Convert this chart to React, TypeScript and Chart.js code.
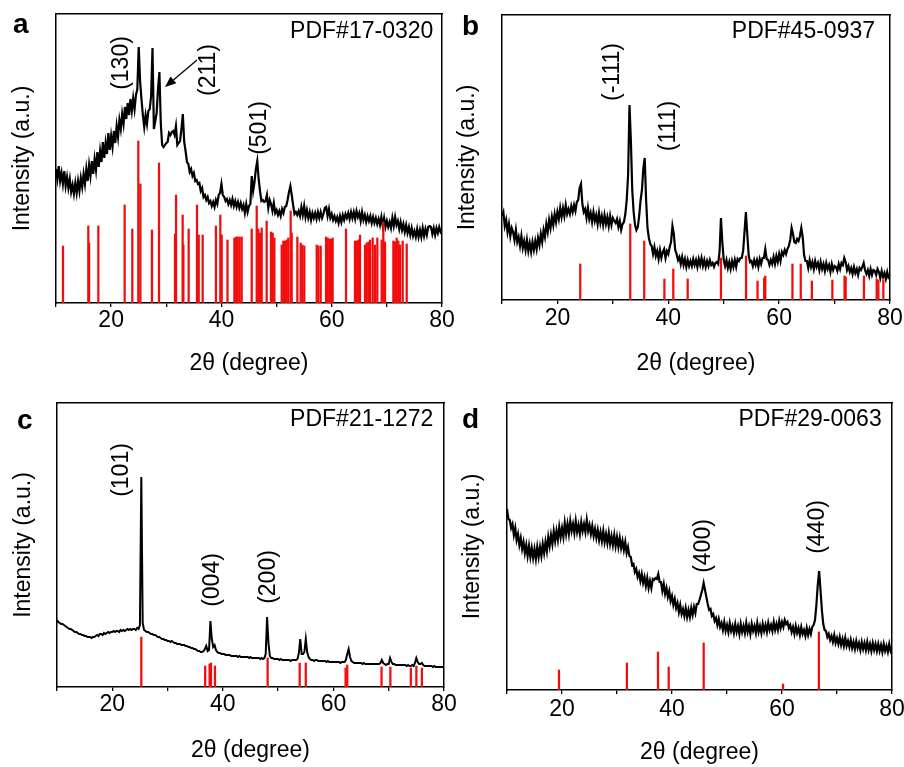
import React, { useEffect, useRef } from 'react';
import { Chart, registerables } from 'chart.js';

Chart.register(...registerables);

const FONT = '"Liberation Sans", Arial, Helvetica, sans-serif';
const RED = '#f20d0d';

// 2θ sampling grid of the measured patterns (degrees)
const TWO_THETA_START = 10;
const TWO_THETA_STEP = 0.25;
const X_MIN = 10;
const X_MAX = 80;
const X_TICK_LABELS = [20, 40, 60, 80];

// ---------- Panel a ----------
const A_INTENSITY = [
  134, 124, 137, 122, 130, 119, 132, 117, 126, 115, 124, 111, 118, 109, 120, 110,
  122, 112, 125, 116, 129, 119, 134, 122, 138, 127, 142, 129, 144, 133, 151, 136,
  152, 141, 161, 145, 160, 149, 170, 153, 167, 156, 172, 160, 177, 166, 183, 174,
  189, 179, 196, 184, 200, 188, 204, 192, 205, 194, 208, 214, 256, 222, 204, 188,
  176, 188, 179, 192, 194, 207, 255, 174, 182, 190, 214, 231, 180, 158, 156, 158,
  160, 161, 170, 168, 171, 172, 168, 177, 158, 160, 162, 174, 189, 161, 152, 141,
  139, 131, 134, 127, 130, 122, 123, 119, 120, 112, 115, 106, 108, 103, 106, 100,
  102, 97, 101, 96, 103, 99, 108, 110, 119, 108, 106, 102, 104, 99, 103, 98,
  104, 97, 102, 96, 101, 95, 100, 94, 98, 90, 99, 91, 97, 99, 127, 112,
  121, 134, 142, 124, 112, 102, 103, 101, 102, 108, 95, 103, 99, 92, 100, 90,
  93, 88, 92, 87, 94, 90, 96, 97, 103, 111, 117, 108, 98, 89, 91, 88,
  92, 87, 96, 88, 97, 86, 93, 85, 91, 83, 90, 85, 90, 84, 91, 85,
  91, 85, 89, 95, 96, 87, 94, 85, 89, 83, 87, 82, 86, 80, 87, 81,
  88, 83, 89, 85, 90, 84, 91, 85, 91, 84, 92, 86, 90, 82, 91, 83,
  88, 81, 87, 82, 87, 80, 86, 80, 85, 79, 84, 78, 86, 77, 85, 76,
  82, 76, 81, 75, 85, 77, 86, 78, 82, 74, 81, 73, 79, 71, 78, 70,
  76, 68, 75, 67, 72, 66, 74, 66, 73, 66, 75, 67, 74, 68, 76, 77,
  76, 69, 75, 68, 75, 70, 76, 71, 73,
];
const A_REF_2THETA = [
  11.27, 15.86, 16.0, 17.68, 22.45, 23.84, 24.93, 25.3, 27.4, 28.68, 31.58, 31.77,
  32.97, 33.1, 34.06, 35.57, 35.88, 36.6, 39.0, 39.8, 40.05, 41.1, 42.35, 42.65,
  42.95, 43.3, 43.67, 45.49, 46.4, 46.69, 47.0, 47.3, 48.2, 48.99, 49.3, 49.6,
  50.93, 51.23, 51.53, 51.83, 52.13, 52.56, 52.74, 53.77, 54.37, 54.67, 55.03, 57.28,
  57.58, 58.0, 58.97, 59.27, 59.57, 59.87, 60.17, 62.59, 64.22, 64.53, 64.83, 65.13,
  66.04, 66.34, 66.64, 66.95, 67.43, 67.85, 68.27, 69.06, 69.36, 69.67, 71.18, 71.48,
  71.78, 72.08, 72.39, 72.87, 73.6,
];
const A_REF_INTENSITY = [
  57, 77, 60, 77, 98, 74, 162, 119, 73, 140, 69, 108,
  88, 58, 74, 98, 68, 68, 77, 88, 68, 63, 65, 66,
  66, 66, 66, 74, 97, 74, 70, 75, 82, 71, 70, 65,
  58, 62, 62, 63, 65, 92, 70, 66, 60, 58, 57, 58,
  57, 57, 66, 65, 64, 64, 65, 74, 62, 62, 63, 68,
  58, 60, 61, 63, 65, 58, 65, 63, 81, 61, 62, 61,
  65, 62, 58, 62, 59,
];
const A_PEAK_TEXT = ['(130)', '(211)', '(501)'];
const A_PEAK_2THETA = [21.9, 37.6, 47.0];
const A_PEAK_LEVEL = [240, 233, 175];

// ---------- Panel b ----------
const B_INTENSITY = [
  84, 88, 74, 80, 68, 76, 64, 72, 68, 60, 70, 58, 63, 54, 64, 52,
  59, 50, 60, 49, 57, 48, 58, 50, 59, 51, 62, 55, 66, 58, 70, 63,
  76, 68, 80, 72, 83, 75, 86, 78, 88, 81, 92, 83, 92, 84, 95, 86,
  91, 86, 94, 88, 95, 89, 98, 100, 112, 116, 96, 88, 91, 82, 92, 81,
  87, 78, 88, 79, 85, 76, 87, 77, 84, 75, 85, 76, 83, 74, 84, 75,
  82, 79, 77, 81, 73, 79, 70, 76, 78, 86, 100, 125, 195, 160, 110, 88,
  75, 70, 73, 84, 100, 110, 132, 142, 100, 72, 62, 56, 54, 46, 53, 44,
  49, 41, 50, 42, 48, 51, 42, 49, 46, 53, 58, 74, 66, 50, 46, 40,
  43, 36, 43, 35, 41, 33, 40, 34, 39, 34, 41, 35, 40, 33, 41, 35,
  42, 34, 40, 33, 39, 34, 40, 35, 37, 33, 37, 38, 36, 48, 82, 58,
  40, 34, 40, 32, 38, 31, 39, 33, 40, 33, 41, 39, 42, 42, 49, 68,
  88, 66, 45, 38, 39, 34, 40, 35, 40, 33, 41, 36, 42, 42, 51, 41,
  40, 35, 40, 36, 43, 36, 44, 38, 46, 39, 48, 45, 50, 46, 51, 54,
  60, 72, 66, 58, 57, 61, 59, 64, 72, 63, 45, 39, 39, 32, 40, 33,
  38, 31, 39, 33, 37, 30, 38, 31, 36, 29, 37, 31, 35, 28, 36, 30,
  34, 33, 29, 36, 31, 37, 35, 42, 38, 30, 34, 28, 32, 26, 33, 27,
  31, 25, 32, 30, 33, 37, 30, 26, 30, 24, 31, 25, 30, 29, 25, 31,
  28, 22, 29, 23, 27, 21, 28, 22, 23,
];
const B_REF_2THETA = [
  24.12, 33.14, 35.66, 39.3, 40.9, 43.5, 49.5, 54.03, 56.1, 57.3, 57.5,
  62.4, 63.9, 65.9, 69.6, 71.8, 72.0, 75.3, 77.6, 77.9, 78.8,
];
const B_REF_INTENSITY = [
  36, 76, 59, 21, 31, 21, 42, 44, 19, 22, 24,
  36, 36, 19, 20, 24, 23, 24, 21, 20, 20,
];
const B_PEAK_TEXT = ['(-111)', '(111)'];
const B_PEAK_2THETA = [30.0, 40.0];
const B_PEAK_LEVEL = [228, 174];

// ---------- Panel c ----------
const C_INTENSITY = [
  67, 65, 64, 63, 63, 62, 61, 60, 59, 58, 58, 57, 56, 55, 55, 54,
  53, 53, 52, 52, 51, 51, 50, 50, 50, 49, 50, 50, 51, 52, 51, 53,
  53, 52, 54, 53, 54, 55, 54, 55, 55, 56, 55, 56, 56, 55, 57, 56,
  57, 56, 57, 58, 57, 58, 57, 58, 58, 57, 59, 58, 62, 210, 64, 57,
  56, 55, 55, 54, 53, 53, 52, 52, 51, 50, 50, 49, 48, 48, 47, 47,
  46, 46, 45, 46, 45, 44, 44, 43, 43, 43, 42, 42, 42, 41, 41, 40,
  40, 39, 39, 38, 38, 37, 36, 36, 35, 35, 36, 38, 41, 36, 37, 66,
  48, 40, 42, 37, 35, 34, 34, 33, 33, 33, 32, 32, 32, 32, 31, 31,
  31, 31, 31, 30, 31, 30, 30, 30, 30, 30, 30, 29, 30, 29, 29, 29,
  29, 29, 29, 28, 29, 28, 29, 33, 70, 44, 31, 29, 29, 28, 28, 28,
  28, 27, 28, 27, 27, 27, 27, 27, 27, 26, 27, 27, 27, 27, 28, 34,
  48, 33, 33, 35, 48, 35, 30, 28, 27, 27, 26, 27, 27, 26, 26, 26,
  26, 26, 26, 25, 26, 25, 25, 25, 25, 25, 25, 25, 25, 24, 25, 25,
  25, 27, 33, 38, 30, 26, 25, 24, 24, 24, 24, 24, 24, 23, 24, 23,
  23, 23, 23, 23, 23, 23, 23, 23, 23, 23, 24, 27, 24, 23, 22, 23,
  23, 29, 25, 23, 23, 22, 22, 22, 22, 22, 22, 22, 22, 21, 22, 21,
  21, 22, 21, 24, 29, 25, 23, 23, 24, 22, 21, 21, 21, 21, 21, 21,
  20, 21, 20, 20, 20, 20, 20, 20, 20,
];
const C_REF_2THETA = [
  25.25, 36.8, 37.6, 37.85, 38.57, 48.1, 53.9, 55.0, 62.2, 62.5, 68.7, 70.3, 74.0, 75.0, 76.0,
];
const C_REF_INTENSITY = [50, 21, 23, 24, 21, 29, 24, 24, 19, 22, 20, 20, 19, 21, 19];
const C_PEAK_TEXT = ['(101)', '(004)', '(200)'];
const C_PEAK_2THETA = [21.65, 38.2, 48.34];
const C_PEAK_LEVEL = [217, 107, 110];

// ---------- Panel d ----------
const D_INTENSITY = [
  181, 171, 170, 162, 166, 155, 162, 150, 156, 145, 152, 141, 148, 137, 145, 134,
  144, 133, 142, 132, 141, 131, 143, 133, 143, 134, 146, 137, 148, 139, 153, 144,
  155, 146, 159, 149, 159, 150, 163, 153, 162, 153, 167, 156, 166, 156, 169, 159,
  166, 157, 169, 158, 165, 156, 168, 159, 166, 158, 170, 159, 165, 156, 164, 154,
  161, 152, 160, 150, 158, 149, 159, 148, 156, 147, 157, 146, 154, 145, 155, 144,
  153, 143, 152, 142, 149, 140, 148, 137, 143, 134, 133, 125, 126, 118, 121, 113,
  117, 109, 116, 107, 113, 104, 112, 102, 109, 102, 111, 110, 112, 111, 116, 108,
  108, 99, 106, 96, 102, 93, 99, 89, 94, 85, 91, 82, 87, 78, 85, 76,
  81, 74, 82, 73, 80, 73, 82, 75, 83, 77, 86, 86, 90, 95, 100, 107,
  100, 93, 86, 80, 81, 74, 76, 69, 72, 65, 71, 63, 67, 60, 68, 59,
  65, 58, 67, 59, 64, 57, 66, 58, 64, 56, 66, 58, 64, 57, 67, 58,
  64, 56, 66, 59, 64, 57, 67, 58, 64, 57, 66, 59, 65, 58, 67, 60,
  65, 59, 68, 60, 66, 60, 69, 62, 68, 63, 70, 66, 68, 62, 65, 58,
  63, 56, 64, 57, 62, 55, 63, 56, 60, 54, 62, 55, 61, 56, 63, 65,
  70, 85, 105, 119, 100, 80, 66, 60, 59, 53, 56, 50, 54, 48, 55, 47,
  52, 46, 53, 45, 51, 44, 52, 44, 49, 43, 50, 42, 48, 41, 49, 42,
  47, 40, 48, 41, 47, 40, 48, 40, 46, 39, 47, 40, 46, 39, 46, 39,
  45, 38, 46, 39, 44, 38, 46, 39, 42,
];
const D_REF_2THETA = [19.45, 31.8, 37.45, 39.4, 45.76, 60.2, 66.7];
const D_REF_INTENSITY = [20, 27, 38, 23, 47, 6, 58];
const D_PEAK_TEXT = ['(400)', '(440)'];
const D_PEAK_2THETA = [45.76, 66.55];
const D_PEAK_LEVEL = [144, 163];

// ---------- layout ----------
const TEXT_SIZE = 23;
const LINE_HALF = (TEXT_SIZE * 1.2) / 2;
const TICK_LEN = 4;

type PanelSpec = {
  letter: string;
  pdf: string;
  left: number; top: number; width: number; height: number;
  areaLeft: number; areaRight: number; areaTop: number; areaBottom: number;
  yTitleX: number; xTitleY: number; tickY: number;
  letterX: number; letterY: number;
  pdfInsetX: number; pdfInsetY: number;
  yMax: number;
  lineWidth: number;
  intensity: number[];
  refX: number[]; refY: number[];
  peakText: string[]; peakX: number[]; peakY: number[];
  arrow?: number[];
};

const PANELS: PanelSpec[] = [
  {
    letter: 'a', pdf: 'PDF#17-0320',
    left: 0, top: 0, width: 460, height: 385,
    areaLeft: 56, areaRight: 442, areaTop: 14, areaBottom: 303,
    yTitleX: 23, xTitleY: 364, tickY: 321,
    letterX: 13, letterY: 33, pdfInsetX: 8.7, pdfInsetY: 18,
    yMax: 289, lineWidth: 2.2,
    intensity: A_INTENSITY, refX: A_REF_2THETA, refY: A_REF_INTENSITY,
    peakText: A_PEAK_TEXT, peakX: A_PEAK_2THETA, peakY: A_PEAK_LEVEL,
    arrow: [35.57, 243, 29.77, 216],
  },
  {
    letter: 'b', pdf: 'PDF#45-0937',
    left: 452, top: 0, width: 452, height: 385,
    areaLeft: 50, areaRight: 438, areaTop: 15, areaBottom: 300,
    yTitleX: 16, xTitleY: 364, tickY: 319,
    letterX: 10, letterY: 35, pdfInsetX: 15, pdfInsetY: 17,
    yMax: 285, lineWidth: 2.2,
    intensity: B_INTENSITY, refX: B_REF_2THETA, refY: B_REF_INTENSITY,
    peakText: B_PEAK_TEXT, peakX: B_PEAK_2THETA, peakY: B_PEAK_LEVEL,
  },
  {
    letter: 'c', pdf: 'PDF#21-1272',
    left: 0, top: 385, width: 460, height: 382,
    areaLeft: 57, areaRight: 444, areaTop: 18, areaBottom: 302,
    yTitleX: 23.3, xTitleY: 366, tickY: 320,
    letterX: 17, letterY: 44, pdfInsetX: 10.7, pdfInsetY: 17,
    yMax: 284, lineWidth: 2,
    intensity: C_INTENSITY, refX: C_REF_2THETA, refY: C_REF_INTENSITY,
    peakText: C_PEAK_TEXT, peakX: C_PEAK_2THETA, peakY: C_PEAK_LEVEL,
  },
  {
    letter: 'd', pdf: 'PDF#29-0063',
    left: 452, top: 385, width: 452, height: 382,
    areaLeft: 55, areaRight: 440, areaTop: 18, areaBottom: 305,
    yTitleX: 21, xTitleY: 368, tickY: 325,
    letterX: 10, letterY: 43, pdfInsetX: 10.3, pdfInsetY: 17,
    yMax: 287, lineWidth: 2.2,
    intensity: D_INTENSITY, refX: D_REF_2THETA, refY: D_REF_INTENSITY,
    peakText: D_PEAK_TEXT, peakX: D_PEAK_2THETA, peakY: D_PEAK_LEVEL,
  },
];

function makeAnnotationPlugin(spec: PanelSpec) {
  return {
    id: 'xrdAnnotations' + spec.letter,
    afterDraw(chart: any) {
      const { ctx, chartArea, scales } = chart;
      const sx = scales.x;
      const sy = scales.y;
      ctx.save();
      ctx.fillStyle = '#000';
      ctx.strokeStyle = '#000';
      ctx.font = `${TEXT_SIZE}px ${FONT}`;
      // reference card
      ctx.textAlign = 'right';
      ctx.textBaseline = 'middle';
      ctx.fillText(spec.pdf, chartArea.right - spec.pdfInsetX, chartArea.top + spec.pdfInsetY);
      // peak indices
      spec.peakText.forEach((t, i) => {
        const px = sx.getPixelForValue(spec.peakX[i]);
        const py = sy.getPixelForValue(spec.peakY[i]);
        ctx.save();
        ctx.translate(px, py);
        ctx.rotate(-Math.PI / 2);
        ctx.textAlign = 'center';
        ctx.textBaseline = 'middle';
        ctx.fillText(t, 0, 0);
        ctx.restore();
      });
      // arrow
      if (spec.arrow) {
        const x1 = sx.getPixelForValue(spec.arrow[0]);
        const y1 = sy.getPixelForValue(spec.arrow[1]);
        const x2 = sx.getPixelForValue(spec.arrow[2]);
        const y2 = sy.getPixelForValue(spec.arrow[3]);
        const ang = Math.atan2(y2 - y1, x2 - x1);
        const headLen = 11;
        const headHalf = 4.5;
        const bx = x2 - headLen * Math.cos(ang);
        const by = y2 - headLen * Math.sin(ang);
        ctx.lineWidth = 1.3;
        ctx.beginPath();
        ctx.moveTo(x1, y1);
        ctx.lineTo(bx, by);
        ctx.stroke();
        ctx.beginPath();
        ctx.moveTo(x2, y2);
        ctx.lineTo(bx + headHalf * Math.sin(ang), by - headHalf * Math.cos(ang));
        ctx.lineTo(bx - headHalf * Math.sin(ang), by + headHalf * Math.cos(ang));
        ctx.closePath();
        ctx.fill();
      }
      // panel letter
      ctx.font = `bold 28px ${FONT}`;
      ctx.textAlign = 'left';
      ctx.textBaseline = 'alphabetic';
      ctx.fillText(spec.letter, spec.letterX, spec.letterY);
      ctx.restore();
    },
  };
}

function buildConfig(spec: PanelSpec): any {
  const yAxisWidth = spec.areaLeft;
  const xAxisHeight = spec.height - spec.areaBottom;
  const padRight = spec.width - spec.areaRight;
  const yTitlePad = Math.max(0, spec.yTitleX - LINE_HALF);
  const xTitlePad = Math.max(0, spec.height - spec.xTitleY - LINE_HALF);
  const tickPad = Math.max(0, spec.tickY - spec.areaBottom - TICK_LEN - LINE_HALF);
  const textFont = { family: FONT, size: TEXT_SIZE };
  const frame = { display: true, color: '#000', width: 1.5 };

  const sticks = spec.refX.map((x, i) => ({ x, y: spec.refY[i] }));
  const pattern = spec.intensity.map((y, i) => ({ x: TWO_THETA_START + i * TWO_THETA_STEP, y }));

  return {
    type: 'line',
    data: {
      datasets: [
        {
          type: 'bar',
          data: sticks,
          backgroundColor: RED,
          borderWidth: 0,
          barThickness: 1.6,
          order: 0,
        },
        {
          type: 'line',
          data: pattern,
          borderColor: '#000',
          borderWidth: spec.lineWidth,
          pointRadius: 0,
          tension: 0,
          fill: false,
          order: 1,
        },
      ],
    },
    options: {
      responsive: false,
      animation: false,
      events: [],
      layout: { padding: { top: spec.areaTop, right: padRight, left: 0, bottom: 0 } },
      plugins: {
        legend: { display: false },
        tooltip: { enabled: false },
        title: { display: false },
      },
      scales: {
        x: {
          type: 'linear',
          position: 'bottom',
          min: X_MIN,
          max: X_MAX,
          offset: false,
          ticks: {
            stepSize: 10,
            autoSkip: false,
            maxRotation: 0,
            minRotation: 0,
            padding: tickPad,
            color: '#000',
            font: textFont,
            callback: (v: number) => (X_TICK_LABELS.includes(v) ? String(v) : ''),
          },
          grid: {
            display: true,
            drawOnChartArea: false,
            drawTicks: true,
            tickLength: TICK_LEN,
            color: '#000',
            lineWidth: 1.3,
            offset: false,
          },
          border: frame,
          title: {
            display: true,
            text: '2θ (degree)',
            color: '#000',
            font: textFont,
            padding: { top: 0, bottom: xTitlePad },
          },
          afterFit: (s: any) => {
            s.height = xAxisHeight;
            s.paddingLeft = 0;
            s.paddingRight = 0;
          },
        },
        y: {
          type: 'linear',
          position: 'left',
          min: 0,
          max: spec.yMax,
          ticks: { display: false },
          grid: { display: false },
          border: frame,
          title: {
            display: true,
            text: 'Intensity (a.u.)',
            color: '#000',
            font: textFont,
            padding: { top: yTitlePad, bottom: 0 },
          },
          afterFit: (s: any) => {
            s.width = yAxisWidth;
            s.paddingTop = 0;
            s.paddingBottom = 0;
          },
        },
        xTop: {
          type: 'linear',
          position: 'top',
          min: X_MIN,
          max: X_MAX,
          ticks: { display: false },
          grid: { display: false },
          border: frame,
          afterFit: (s: any) => {
            s.height = 0;
            s.paddingLeft = 0;
            s.paddingRight = 0;
          },
        },
        yRight: {
          type: 'linear',
          position: 'right',
          min: 0,
          max: spec.yMax,
          ticks: { display: false },
          grid: { display: false },
          border: frame,
          afterFit: (s: any) => {
            s.width = 0;
            s.paddingTop = 0;
            s.paddingBottom = 0;
          },
        },
      },
    },
    plugins: [makeAnnotationPlugin(spec)],
  };
}

function XrdPanel({ spec }: { spec: PanelSpec }) {
  const ref = useRef<HTMLCanvasElement>(null);
  useEffect(() => {
    if (!ref.current) return;
    const chart = new Chart(ref.current, buildConfig(spec));
    return () => chart.destroy();
  }, [spec]);
  return (
    <canvas
      ref={ref}
      width={spec.width}
      height={spec.height}
      style={{
        position: 'absolute',
        left: spec.left,
        top: spec.top,
        width: spec.width,
        height: spec.height,
        display: 'block',
      }}
    />
  );
}

export default function App() {
  return (
    <div
      style={{
        position: 'absolute',
        left: 0,
        top: 0,
        width: 904,
        height: 767,
        background: '#fff',
        overflow: 'hidden',
      }}
    >
      {PANELS.map((p) => (
        <XrdPanel key={p.letter} spec={p} />
      ))}
    </div>
  );
}
